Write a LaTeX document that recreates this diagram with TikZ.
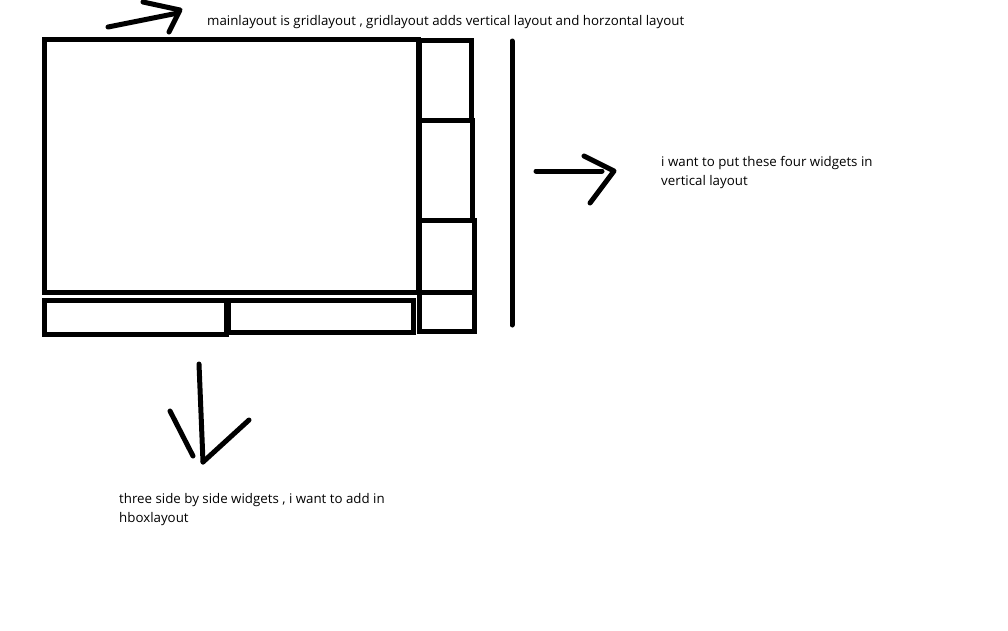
\documentclass[tikz,border=0pt]{standalone}
\usepackage{fontspec}
\setmainfont{Open Sans}
\usetikzlibrary{positioning}

\tikzset{
    widget/.style={draw, line width=5pt, inner sep=0pt, outer sep=0pt, anchor=north west},
    stroke/.style={line width=5pt, line cap=round, line join=round},
    note/.style={align=left, inner sep=0pt, anchor=base west, font=\fontsize{13.3}{19}\selectfont}
}

\begin{document}
\begin{tikzpicture}[x=1pt, y=-1pt]
        \useasboundingbox (0,0) rectangle (1008,630);

        % grid layout
        \node[widget, minimum width=373.5pt, minimum height=252.5pt] (main) at (44.5,39.5) {};

        % bottom row
        \node[widget, minimum width=181.5pt, minimum height=34pt] (hboxa) at (44.5,300) {};
        \node[widget, minimum width=185pt, minimum height=32pt] (hboxb) at (228,300) {};

        % right column
        \node[widget, minimum width=51.5pt, minimum height=80pt] (vboxa) at (419.5,40) {};
        \node[widget, minimum width=52.5pt, minimum height=100pt] (vboxb) at (419.5,120) {};
        \node[widget, minimum width=54.5pt, minimum height=72pt] (vboxc) at (419.5,220) {};
        \node[widget, minimum width=54.5pt, minimum height=39pt] (vboxd) at (419.5,292) {};

        \coordinate (bar top) at (512,41);
        \coordinate (bar bot) at (512,325);
        \draw[stroke] (bar top) -- (bar bot);

        % notes
        \node[note] (gridnote) at (207,25) {mainlayout is gridlayout , gridlayout adds vertical layout and horzontal layout};
        \node[note] (vnote) at (661,185) {i want to put these four widgets in\\vertical layout};
        \node[note] (hnote) at (119,522) {three side by side widgets , i want to add in\\hboxlayout};

        % arrows
        \coordinate (ga) at (108,27);
        \coordinate (gb) at (178,13);
        \draw[stroke] (ga) -- (gb);
        \draw[stroke] (143,2) -- (180,10) -- (169,32);

        \coordinate (va) at (536,171);
        \coordinate (vb) at (602,171);
        \draw[stroke] (va) -- (vb);
        \draw[stroke] (584,156) -- (614,171) -- (590,203);

        \coordinate (ha) at (199,364);
        \coordinate (hb) at (203,462);
        \draw[stroke] (ha) -- (hb);
        \draw[stroke] (170,411) -- (193,456);
        \draw[stroke] (249,420) -- (203,462);
\end{tikzpicture}
\end{document}
